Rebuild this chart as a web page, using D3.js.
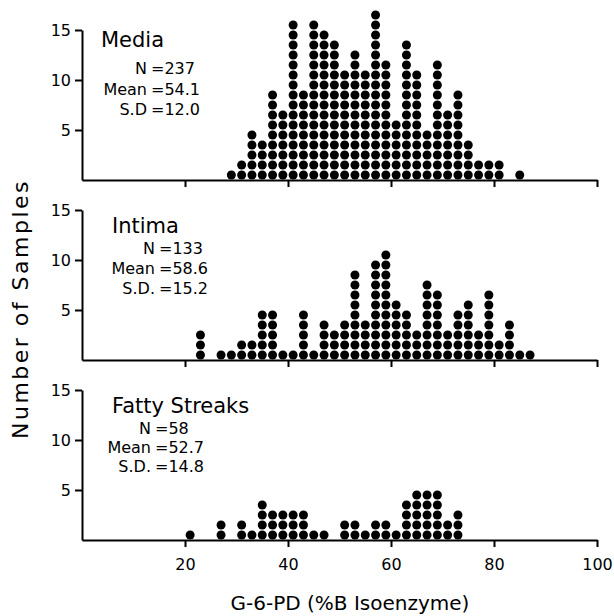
<!DOCTYPE html>
<html lang="en">
  <head>
    <meta charset="utf-8" />
    <title>G-6-PD isoenzyme – dot plots</title>
    <style>
      body {
        margin: 0;
        background: #fff;
      }
      svg {
        display: block;
        font-family: 'DejaVu Sans', sans-serif;
      }
      .axis path,
      .axis line {
        stroke: #000;
        stroke-width: 2;
      }
      .axis text {
        font-family: 'DejaVu Sans', sans-serif;
        font-size: 16px;
        fill: #000;
      }
    </style>
    <script src="https://d3js.org/d3.v7.min.js"></script>
  </head>

  <body>
    <svg width="614" height="616"></svg>

    <script>
      // bin centres (% B isoenzyme) and number of samples per bin
      const mediaBins = [29, 31, 33, 35, 37, 39, 41, 43, 45, 47, 49, 51, 53, 55, 57, 59, 61, 63, 65, 67, 69, 71, 73, 75, 77, 79, 81, 85];
      const mediaCounts = [1, 2, 5, 4, 9, 7, 16, 9, 16, 15, 14, 11, 13, 11, 17, 12, 6, 14, 11, 5, 12, 7, 9, 4, 2, 2, 2, 1];

      const intimaBins = [23, 27, 29, 31, 33, 35, 37, 39, 41, 43, 45, 47, 49, 51, 53, 55, 57, 59, 61, 63, 65, 67, 69, 71, 73, 75, 77, 79, 81, 83, 85, 87];
      const intimaCounts = [3, 1, 1, 2, 2, 5, 5, 1, 1, 5, 1, 4, 3, 4, 9, 4, 10, 11, 6, 5, 3, 8, 7, 3, 5, 6, 3, 7, 2, 4, 1, 1];

      const fattyBins = [21, 27, 31, 33, 35, 37, 39, 41, 43, 45, 47, 51, 53, 55, 57, 59, 61, 63, 65, 67, 69, 71, 73];
      const fattyCounts = [1, 2, 2, 1, 4, 3, 3, 3, 3, 1, 1, 2, 2, 1, 2, 2, 1, 4, 5, 5, 5, 2, 3];

      const panelNames = ['Media', 'Intima', 'Fatty Streaks'];
      const statLabels = [
        ['N', 'Mean', 'S.D'],
        ['N', 'Mean', 'S.D.'],
        ['N', 'Mean', 'S.D.'],
      ];
      const statValues = [
        ['237', '54.1', '12.0'],
        ['133', '58.6', '15.2'],
        ['58', '52.7', '14.8'],
      ];

      const xTicks = [20, 40, 60, 80, 100];
      const yTicks = [5, 10, 15];

      const svg = d3.select('svg');

      const x = d3.scaleLinear().domain([0, 100]).range([82, 597]);

      const panels = [
        { bins: mediaBins, counts: mediaCounts, base: 180, titleX: 101, titleY: 47, statX: 147, statY: [74, 95, 115] },
        { bins: intimaBins, counts: intimaCounts, base: 360, titleX: 112, titleY: 233, statX: 155, statY: [254, 274, 294] },
        { bins: fattyBins, counts: fattyCounts, base: 540, titleX: 112, titleY: 413, statX: 151, statY: [434, 453, 472] },
      ];

      panels.forEach((p, i) => {
        const y = d3.scaleLinear().domain([0, 15]).range([p.base, p.base - 150]);
        const g = svg.append('g');

        // one dot per sample, stacked in its bin
        const dots = [];
        p.bins.forEach((b, j) => {
          d3.range(p.counts[j]).forEach((k) => dots.push({ b, k }));
        });
        g.selectAll('circle')
          .data(dots)
          .enter()
          .append('circle')
          .attr('cx', (d) => x(d.b))
          .attr('cy', (d) => y(d.k + 0.5))
          .attr('r', 4.5)
          .attr('fill', '#000');

        g.append('g')
          .attr('class', 'axis')
          .attr('transform', `translate(0,${p.base})`)
          .call(
            d3
              .axisBottom(x)
              .tickValues(xTicks)
              .tickSize(7)
              .tickSizeOuter(0)
              .tickPadding(12)
              .tickFormat(i === 2 ? (d) => d : () => ''),
          );

        g.append('g')
          .attr('class', 'axis')
          .attr('transform', `translate(${x(0)},0)`)
          .call(d3.axisLeft(y).tickValues(yTicks).tickSize(7).tickSizeOuter(0).tickPadding(4));

        g.append('text')
          .attr('x', p.titleX)
          .attr('y', p.titleY)
          .style('font-size', '21px')
          .text(panelNames[i]);

        statLabels[i].forEach((lab, k) => {
          g.append('text')
            .attr('x', p.statX)
            .attr('y', p.statY[k])
            .attr('text-anchor', 'end')
            .style('font-size', '16px')
            .text(lab);
          g.append('text')
            .attr('x', p.statX + 4)
            .attr('y', p.statY[k])
            .style('font-size', '16px')
            .text('=' + statValues[i][k]);
        });
      });

      svg.append('text')
        .attr('x', 350)
        .attr('y', 610)
        .attr('text-anchor', 'middle')
        .style('font-size', '20px')
        .text('G-6-PD (%B Isoenzyme)');

      svg.append('text')
        .attr('transform', 'translate(28,309) rotate(-90)')
        .attr('text-anchor', 'middle')
        .style('font-size', '22px')
        .style('letter-spacing', '2.5px')
        .text('Number of Samples');
    </script>
  </body>
</html>
